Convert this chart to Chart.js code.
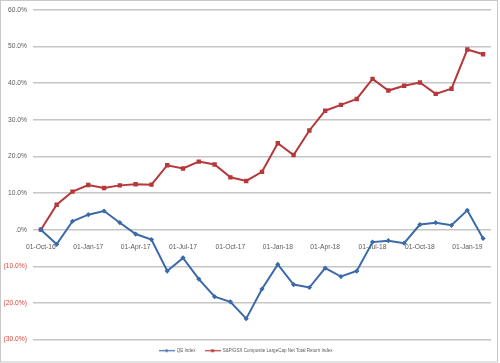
<!DOCTYPE html>
<html>
<head>
<meta charset="utf-8">
<script src="https://cdn.jsdelivr.net/npm/chart.js@4/dist/chart.umd.min.js"></script>
<style>
  html, body { margin: 0; padding: 0; background: #fff; }
  #wrap { width: 500px; height: 363px; }
</style>
</head>
<body>
<div id="wrap"><canvas id="c" width="500" height="363"></canvas></div>
<script>
const categories = [
  "01-Oct-16","01-Nov-16","01-Dec-16","01-Jan-17","01-Feb-17","01-Mar-17","01-Apr-17","01-May-17","01-Jun-17",
  "01-Jul-17","01-Aug-17","01-Sep-17","01-Oct-17","01-Nov-17","01-Dec-17","01-Jan-18","01-Feb-18","01-Mar-18",
  "01-Apr-18","01-May-18","01-Jun-18","01-Jul-18","01-Aug-18","01-Sep-18","01-Oct-18","01-Nov-18","01-Dec-18",
  "01-Jan-19","01-Feb-19"
];
const qeIndex = [
  0.0, -4.0, 2.3, 4.1, 5.1, 1.9, -1.2, -2.7, -11.3, -7.7, -13.5, -18.3, -19.7, -24.3,
  -16.2, -9.5, -15.0, -15.8, -10.5, -12.8, -11.3, -3.4, -3.0, -3.7, 1.4, 1.9, 1.2, 5.3, -2.4
];
const spgsx = [
  0.0, 6.8, 10.4, 12.2, 11.4, 12.1, 12.4, 12.3, 17.6, 16.7, 18.6, 17.8, 14.3, 13.3,
  15.8, 23.6, 20.4, 27.1, 32.5, 34.1, 35.7, 41.2, 38.0, 39.3, 40.2, 37.1, 38.5, 49.2, 47.9
];
const seriesNames = ["QE Index", "S&P/GSX Composite LargeCap Net Total Return Index"];
const yTicks = { min: -30, max: 60, step: 10 };

const BLUE = "#3b6aa8";
const RED = "#b5393a";

function legendIcon(color, shape) {
  const cv = document.createElement("canvas");
  cv.width = 16; cv.height = 5;
  const g = cv.getContext("2d");
  g.strokeStyle = color; g.fillStyle = color; g.lineWidth = 1.2;
  g.beginPath(); g.moveTo(0, 2.5); g.lineTo(16, 2.5); g.stroke();
  g.beginPath();
  if (shape === "diamond") {
    g.moveTo(8, 0.8); g.lineTo(9.7, 2.5); g.lineTo(8, 4.2); g.lineTo(6.3, 2.5);
  } else {
    g.rect(6.6, 1.1, 2.8, 2.8);
  }
  g.fill();
  return cv;
}

const frame = {
  id: "frame",
  beforeDraw(chart) {
    const ctx = chart.ctx;
    ctx.save();
    ctx.fillStyle = "#fff";
    ctx.fillRect(0, 0, chart.width, chart.height);
    ctx.restore();
  },
  afterDraw(chart) {
    const ctx = chart.ctx;
    ctx.save();
    ctx.strokeStyle = "#c8c8c8";
    ctx.lineWidth = 1;
    ctx.strokeRect(0.5, 0.5, 497, 361.5);
    ctx.restore();
  }
};

function fmt(v) {
  if (v === 0) return ".0%";
  if (v < 0) return "(" + Math.abs(v).toFixed(1) + "%)";
  return v.toFixed(1) + "%";
}

const icons = [legendIcon(BLUE, "diamond"), legendIcon(RED, "square")];

new Chart(document.getElementById("c"), {
  type: "line",
  data: {
    labels: categories,
    datasets: [
      {
        label: seriesNames[0],
        data: qeIndex,
        borderColor: BLUE,
        backgroundColor: BLUE,
        borderWidth: 2,
        pointStyle: "rectRot",
        pointRadius: 2.6,
        pointBorderWidth: 0,
        tension: 0
      },
      {
        label: seriesNames[1],
        data: spgsx,
        borderColor: RED,
        backgroundColor: RED,
        borderWidth: 2,
        pointStyle: "rect",
        pointRadius: 3.1,
        pointBorderWidth: 0,
        tension: 0
      }
    ]
  },
  options: {
    responsive: false,
    animation: false,
    devicePixelRatio: 1,
    layout: { padding: { top: 7, right: 9, left: 0, bottom: 0 } },
    plugins: {
      tooltip: { enabled: false },
      legend: {
        position: "bottom",
        labels: {
          usePointStyle: true,
          pointStyleWidth: 16,
          padding: 9,
          color: "#595959",
          font: { family: "Liberation Sans, Arial, sans-serif", size: 4.5 },
          generateLabels(chart) {
            return chart.data.datasets.map((ds, i) => ({
              text: ds.label,
              fillStyle: ds.borderColor,
              strokeStyle: ds.borderColor,
              lineWidth: 0,
              pointStyle: icons[i],
              hidden: false,
              datasetIndex: i,
              fontColor: "#595959"
            }));
          }
        }
      }
    },
    scales: {
      x: {
        type: "category",
        offset: true,
        position: { y: 0 },
        grid: { display: false },
        border: { display: false },
        ticks: {
          autoSkip: false,
          maxRotation: 0,
          minRotation: 0,
          padding: 5,
          color: "#595959",
          font: { family: "Liberation Sans, Arial, sans-serif", size: 6.7 },
          callback(value, index) { return index % 3 === 0 ? categories[index] : ""; }
        }
      },
      y: {
        min: yTicks.min,
        max: yTicks.max,
        afterFit(scale) { scale.width = 33; },
        grid: { color: "#c6c6c6", lineWidth: 1.5, drawTicks: false },
        border: { display: false },
        ticks: {
          stepSize: yTicks.step,
          padding: 6,
          color(ctx) { return ctx.tick && ctx.tick.value < 0 ? "#e0463f" : "#595959"; },
          font: { family: "Liberation Sans, Arial, sans-serif", size: 6.7 },
          callback(v) { return fmt(v); }
        }
      }
    }
  },
  plugins: [frame]
});
</script>
</body>
</html>
